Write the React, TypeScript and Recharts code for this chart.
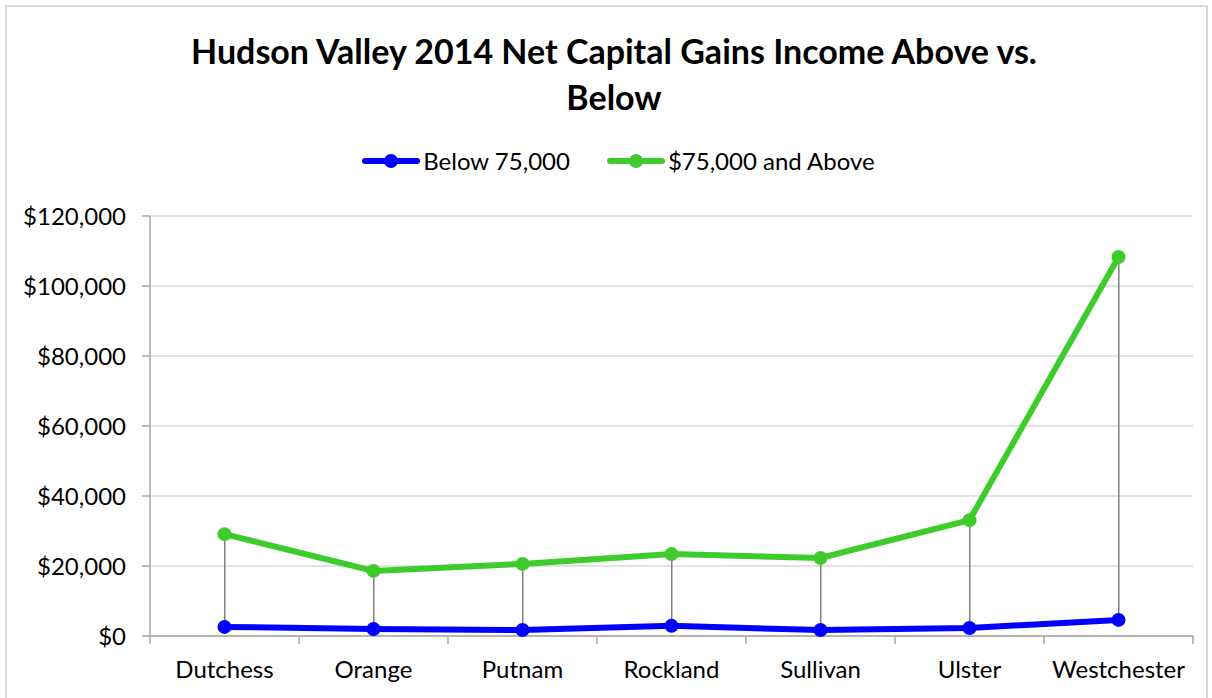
import { Bar, CartesianGrid, ComposedChart, Line, XAxis, YAxis } from "recharts";

const counties = ["Dutchess", "Orange", "Putnam", "Rockland", "Sullivan", "Ulster", "Westchester"];
const below75k = [2600, 2000, 1700, 2900, 1700, 2300, 4600];
const above75k = [29100, 18600, 20600, 23400, 22300, 33100, 108300];
const yTicks = [0, 20000, 40000, 60000, 80000, 100000, 120000];

const BLUE = "#0000ff";
const GREEN = "#3dcc2b";
const AXIS = "#a6a6a6";
const FONT = "Lato, 'Open Sans', sans-serif";

const data = counties.map((name, i) => ({
  name,
  below: below75k[i],
  above: above75k[i],
  range: [below75k[i], above75k[i]],
}));

const money = (v: number) => "$" + v.toLocaleString("en-US");

function CategoryTick(props: any) {
  const { x, y, payload, index } = props;
  const half = payload && payload.offset ? payload.offset : 149 / 2;
  return (
    <g>
      <line x1={x - half} y1={y - 8} x2={x - half} y2={y} stroke={AXIS} strokeWidth={1.5} />
      {index === counties.length - 1 && (
        <line x1={x + half} y1={y - 8} x2={x + half} y2={y} stroke={AXIS} strokeWidth={1.5} />
      )}
      <text x={x} y={y + 34} textAnchor="middle" fill="#000" fontSize={24} fontFamily={FONT}>
        {payload.value}
      </text>
    </g>
  );
}

function ChartLegend() {
  const items = [
    { label: "Below 75,000", color: BLUE },
    { label: "$75,000 and Above", color: GREEN },
  ];
  return (
    <div style={{ display: "flex", justifyContent: "center", gap: 36, fontFamily: FONT, fontSize: 24 }}>
      {items.map((it) => (
        <div key={it.label} style={{ display: "flex", alignItems: "center" }}>
          <svg width={60} height={16} style={{ marginRight: 2 }}>
            <line x1={4} y1={8} x2={56} y2={8} stroke={it.color} strokeWidth={6} strokeLinecap="round" />
            <circle cx={30} cy={8} r={7} fill={it.color} />
          </svg>
          <span>{it.label}</span>
        </div>
      ))}
    </div>
  );
}

export default function App() {
  return (
    <div style={{ position: "absolute", left: 0, top: 0, width: 1212, height: 698, background: "#fff" }}>
      <div
        style={{
          position: "absolute",
          left: 5,
          top: 5,
          width: 1203,
          height: 700,
          border: "2px solid #d9d9d9",
          boxSizing: "border-box",
        }}
      />
      <div
        style={{
          position: "absolute",
          left: 0,
          top: 28,
          width: 1228,
          textAlign: "center",
          fontFamily: FONT,
          fontWeight: 700,
          fontSize: 34,
          lineHeight: "46px",
          color: "#000",
        }}
      >
        Hudson Valley 2014 Net Capital Gains Income Above vs.
        <br />
        Below
      </div>
      <div style={{ position: "absolute", left: 0, top: 146, width: 1236 }}>
        <ChartLegend />
      </div>
      <div style={{ position: "absolute", left: 0, top: 0 }}>
        <ComposedChart
          width={1212}
          height={698}
          data={data}
          margin={{ top: 216, right: 19, left: 0, bottom: 0 }}
        >
          <CartesianGrid vertical={false} stroke="#d9d9d9" strokeWidth={1.5} />
          <XAxis
            dataKey="name"
            height={62}
            axisLine={{ stroke: AXIS, strokeWidth: 1.5 }}
            tickLine={false}
            tick={<CategoryTick />}
            interval={0}
          />
          <YAxis
            width={150}
            domain={[0, 120000]}
            ticks={yTicks}
            tickFormatter={money}
            axisLine={{ stroke: AXIS, strokeWidth: 1.5 }}
            tickLine={{ stroke: AXIS, strokeWidth: 1.5 }}
            tickSize={8}
            tickMargin={16}
            tick={{ fill: "#000", fontSize: 24, fontFamily: FONT }}
          />
          <Bar dataKey="range" barSize={1.5} fill="#808080" isAnimationActive={false} legendType="none" />
          <Line
            dataKey="below"
            name="Below 75,000"
            stroke={BLUE}
            strokeWidth={6}
            dot={{ r: 7, fill: BLUE, stroke: BLUE, strokeWidth: 0 }}
            activeDot={false}
            isAnimationActive={false}
          />
          <Line
            dataKey="above"
            name="$75,000 and Above"
            stroke={GREEN}
            strokeWidth={6}
            dot={{ r: 7, fill: GREEN, stroke: GREEN, strokeWidth: 0 }}
            activeDot={false}
            isAnimationActive={false}
          />
        </ComposedChart>
      </div>
    </div>
  );
}
